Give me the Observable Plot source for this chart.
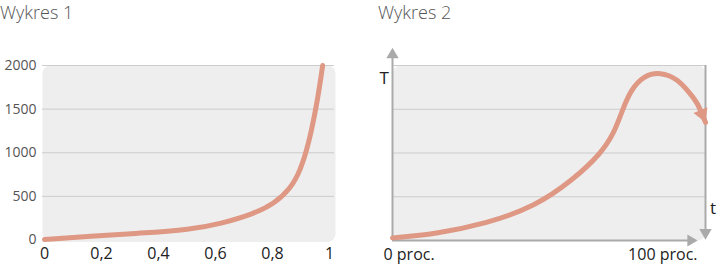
<!DOCTYPE html>
<html><head><meta charset="utf-8">
<script src="https://cdn.jsdelivr.net/npm/d3@7"></script>
<script src="https://cdn.jsdelivr.net/npm/@observablehq/plot@0.6"></script>
<style>
body{margin:0;background:#fff;}
#wrap{position:relative;width:720px;height:264px;overflow:hidden;font-family:"Open Sans",sans-serif;}
.title{position:absolute;top:0;font-size:18px;font-weight:300;color:#555;line-height:normal;}
.chart{position:absolute;top:0;}
</style></head><body>
<div id="wrap">
 <div class="chart" id="c1" style="left:0"></div>
 <div class="chart" id="c2" style="left:360px"></div>
 <div class="title" id="t1" style="left:0"></div>
 <div class="title" id="t2" style="left:378px"></div>
</div>
<script>
const titles = ["Wykres 1", "Wykres 2"];

// Chart 1
const x1Ticks = [0, 0.2, 0.4, 0.6, 0.8, 1];
const y1Ticks = [0, 500, 1000, 1500, 2000];
const curve1X = [0, 0.16, 0.337, 0.512, 0.618, 0.734, 0.805, 0.863, 0.898, 0.927, 0.951, 0.965, 0.976];
const curve1Y = [5, 44, 78, 120, 186, 300, 415, 587, 797, 1103, 1484, 1751, 2000];

// Chart 2
const x2Labels = ["0 proc.", "100 proc."];
const x2LabelPos = [0, 100];
const y2Grid = [1, 2, 3, 4];
const axisLabels = ["T", "t"];
const curve2X = [0, 13.7, 29.7, 45.7, 57.9, 66.5, 70.7, 73.4, 76.0, 80.3, 85.6, 91.0, 95.2, 97.4, 100];
const curve2Y = [0.06, 0.15, 0.38, 0.78, 1.40, 1.98, 2.44, 2.97, 3.43, 3.77, 3.85, 3.70, 3.35, 3.16, 2.70];

const FONT = "'Open Sans', sans-serif";
const CURVE = "#de9884";
const PANEL = "#eeeeef";
const GRID = "#cccccc";
const AXIS = "#aaaaaa";

document.getElementById("t1").textContent = titles[0];
document.getElementById("t2").textContent = titles[1];

const data1 = curve1X.map((x, i) => ({x, y: curve1Y[i]}));
const data2 = curve2X.map((x, i) => ({x, y: curve2Y[i]}));

const c1 = Plot.plot({
  width: 350, height: 264,
  marginLeft: 44, marginRight: 21, marginTop: 65, marginBottom: 24.5,
  x: {domain: [0, 1]},
  y: {domain: [0, 2000]},
  style: {fontFamily: FONT, background: "transparent", overflow: "visible"},
  marks: [
    Plot.frame({fill: PANEL, stroke: null, rx: 8, insetLeft: -2, insetRight: -6, insetBottom: -2}),
    Plot.ruleY(y1Ticks.filter(d => d > 0), {stroke: GRID, strokeWidth: 1, insetLeft: -2, insetRight: -5}),
    Plot.axisY({ticks: y1Ticks, tickSize: 0, tickPadding: 8, label: null, fontSize: 14, color: "#555",
      tickFormat: d => String(d)}),
    Plot.axisX({ticks: x1Ticks, tickSize: 0, tickPadding: 8, label: null, fontSize: 16, color: "#222",
      tickFormat: d => String(d).replace(".", ",")}),
    Plot.line(data1, {x: "x", y: "y", stroke: CURVE, strokeWidth: 5, curve: "basis"})
  ]
});
document.getElementById("c1").append(c1);

const last = data2[data2.length - 1];
const c2 = Plot.plot({
  width: 360, height: 264,
  marginLeft: 32, marginRight: 15, marginTop: 65, marginBottom: 24,
  x: {domain: [0, 100], axis: null},
  y: {domain: [0, 4], axis: null},
  style: {fontFamily: FONT, background: "transparent", overflow: "visible"},
  marks: [
    Plot.frame({fill: PANEL, stroke: null, rx: 8}),
    Plot.ruleY(y2Grid, {stroke: GRID, strokeWidth: 1}),
    // T axis (vertical, up arrow)
    Plot.ruleX([0], {y1: 0, y2: 4.2, stroke: AXIS, strokeWidth: 2}),
    Plot.dot([0], {x: d => d, y: 4.245, symbol: "triangle", r: 4.6, fill: AXIS, stroke: null}),
    // bottom axis (right arrow)
    Plot.ruleY([0], {x1: 0, x2: 95, stroke: AXIS, strokeWidth: 2}),
    Plot.dot([0], {x: 95.3, y: d => d, symbol: "triangle", r: 4.4, fill: AXIS, stroke: null, rotate: 90}),
    // right axis (down arrow)
    Plot.ruleX([100], {y1: 0.23, y2: 4, stroke: AXIS, strokeWidth: 2}),
    Plot.dot([100], {x: d => d, y: 0.18, symbol: "triangle", r: 4.6, fill: AXIS, stroke: null, rotate: 180}),
    Plot.text([axisLabels[0]], {frameAnchor: "top-left", dx: -13, dy: 6.5, fontSize: 17, fill: "#222"}),
    Plot.text([axisLabels[1]], {frameAnchor: "bottom-right", dx: 10.5, dy: -26.5, fontSize: 17, fill: "#222"}),
    Plot.text([x2Labels[0]], {x: x2LabelPos[0], y: 0, dx: -9, dy: 14, textAnchor: "start", fontSize: 16, fill: "#222"}),
    Plot.text([x2Labels[1]], {x: x2LabelPos[1], y: 0, dx: -8, dy: 14, textAnchor: "end", fontSize: 16, fill: "#222"}),
    Plot.line(data2, {x: "x", y: "y", stroke: CURVE, strokeWidth: 5, curve: "basis"}),
    Plot.dot([last], {x: "x", y: "y", symbol: "triangle", r: 5.6, fill: CURVE, stroke: null, rotate: 157.5, dx: -3.4, dy: -8.2})
  ]
});
document.getElementById("c2").append(c2);
</script>
</body></html>
